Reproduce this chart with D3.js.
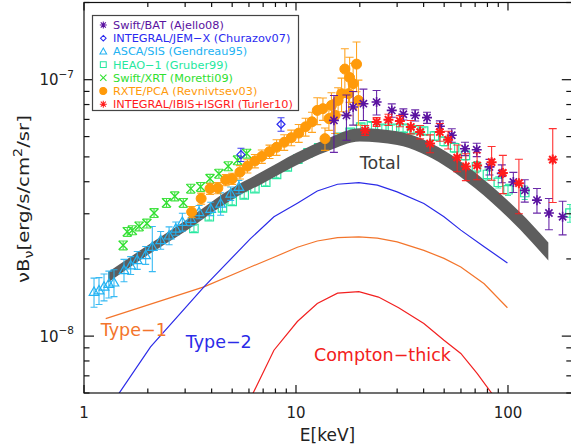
<!DOCTYPE html>
<html><head><meta charset="utf-8">
<script src="https://cdn.jsdelivr.net/npm/d3@7"></script>
<style>body{margin:0;background:#fff}svg{display:block}</style>
</head><body>
<svg id="chart" width="571" height="446"></svg>
<script>
// ---- Data (energy in keV, nuB_nu in erg/s/cm^2/sr, err = fractional 1-sigma) ----
const batE   = [15.1, 17.3, 18.6, 20.8, 24.0, 28.3, 32.1, 36.5, 41.5, 47.7, 54.3, 62.7, 71.2, 81.8, 93.5, 106, 120, 137, 156, 181];
const batV   = [6.94e-8, 7.26e-8, 7.82e-8, 8.06e-8, 8.18e-8, 7.59e-8, 7.33e-8, 7.26e-8, 7.11e-8, 6.58e-8, 6.07e-8, 5.38e-8, 5.33e-8, 4.57e-8, 4.31e-8, 3.99e-8, 3.70e-8, 3.39e-8, 3.02e-8, 2.92e-8];
const batErr = [0.25, 0.2, 0.15, 0.14, 0.11, 0.06, 0.05, 0.05, 0.05, 0.05, 0.06, 0.06, 0.06, 0.07, 0.08, 0.09, 0.10, 0.11, 0.14, 0.15];

const jemE   = [5.5, 8.5];
const jemV   = [5.1e-8, 6.7e-8];
const jemErr = [0.06, 0.06];

const ascaE   = [1.115, 1.177, 1.243, 1.31, 1.385, 1.544, 1.66, 1.783, 1.954, 2.10, 2.30, 2.52, 2.71, 2.91, 3.19, 3.49, 3.96, 4.41, 4.92, 5.38];
const ascaV   = [1.49e-8, 1.51e-8, 1.56e-8, 1.60e-8, 1.62e-8, 1.81e-8, 1.89e-8, 1.98e-8, 2.07e-8, 2.23e-8, 2.37e-8, 2.47e-8, 2.63e-8, 2.79e-8, 2.87e-8, 3.05e-8, 3.14e-8, 3.29e-8, 3.60e-8, 3.82e-8];
const ascaErr = [0.13, 0.12, 0.12, 0.12, 0.12, 0.10, 0.08, 0.08, 0.08, 0.20, 0.08, 0.08, 0.06, 0.08, 0.06, 0.06, 0.06, 0.10, 0.06, 0.06];

const heaoE   = [3.3, 3.9, 4.5, 5.0, 5.7, 6.4, 7.2, 8.1, 9.1, 10.2, 11.4, 12.8, 14.3, 16.0, 18.0, 20.2, 22.7, 25.4, 28.5, 32, 36, 40, 45, 50, 56, 63, 71, 80, 90, 100, 120, 196];
const heaoV   = [2.63e-8, 2.92e-8, 3.16e-8, 3.35e-8, 3.55e-8, 3.76e-8, 3.98e-8, 4.27e-8, 4.57e-8, 4.90e-8, 5.19e-8, 5.43e-8, 5.69e-8, 5.96e-8, 6.24e-8, 6.53e-8, 6.61e-8, 6.46e-8, 6.46e-8, 6.46e-8, 6.38e-8, 6.31e-8, 6.03e-8, 5.75e-8, 5.43e-8, 5.07e-8, 4.57e-8, 4.27e-8, 3.98e-8, 3.72e-8, 3.63e-8, 3.02e-8];
const heaoErr = [0.03, 0.03, 0.03, 0.03, 0.03, 0.03, 0.03, 0.03, 0.03, 0.03, 0.03, 0.03, 0.03, 0.03, 0.03, 0.03, 0.03, 0.03, 0.03, 0.03, 0.03, 0.03, 0.04, 0.04, 0.04, 0.04, 0.05, 0.05, 0.05, 0.05, 0.06, 0.08];

const xrtE   = [1.53, 1.60, 1.69, 1.82, 1.98, 2.14, 2.45, 2.68, 2.94, 3.19, 3.55, 3.93, 4.33, 4.79, 5.3, 5.85];
const xrtV   = [2.26e-8, 2.55e-8, 2.59e-8, 2.68e-8, 2.75e-8, 3.02e-8, 3.31e-8, 3.51e-8, 3.31e-8, 3.76e-8, 3.82e-8, 4.11e-8, 4.30e-8, 4.60e-8, 4.85e-8, 5.15e-8];
const xrtErr = [0.04, 0.04, 0.04, 0.04, 0.04, 0.04, 0.04, 0.04, 0.04, 0.04, 0.04, 0.04, 0.04, 0.04, 0.04, 0.04];

const pcaE   = [3.22, 3.57, 3.93, 4.28, 4.66, 5.0, 5.44, 5.9, 6.4, 6.9, 7.5, 8.1, 8.8, 9.5, 10.3, 11.1, 11.9, 12.6, 13.4, 13.7, 14.3, 14.7, 15.3, 15.8, 16.4, 17.0, 17.7, 17.9, 18.6, 19.3, 19.7];
const pcaV   = [3.05e-8, 3.44e-8, 3.76e-8, 3.78e-8, 4.06e-8, 4.11e-8, 4.36e-8, 4.60e-8, 4.82e-8, 5.02e-8, 5.24e-8, 5.45e-8, 5.70e-8, 5.94e-8, 6.19e-8, 6.55e-8, 6.85e-8, 7.59e-8, 7.71e-8, 5.89e-8, 7.05e-8, 7.94e-8, 7.26e-8, 8.30e-8, 8.82e-8, 1.10e-7, 8.82e-8, 1.02e-7, 9.65e-8, 1.15e-7, 8.30e-8];
const pcaErr = [0.05, 0.05, 0.05, 0.05, 0.05, 0.05, 0.06, 0.06, 0.06, 0.06, 0.06, 0.07, 0.07, 0.07, 0.08, 0.08, 0.09, 0.12, 0.10, 0.10, 0.10, 0.12, 0.15, 0.12, 0.15, 0.20, 0.18, 0.20, 0.20, 0.22, 0.20];

const isgriE   = [21.2, 24.0, 27.3, 30.9, 34.8, 38.5, 42.9, 47.7, 52.2, 57.6, 63.3, 71.5, 83.7, 94.6, 112.6, 162.6];
const isgriV   = [6.34e-8, 6.84e-8, 6.98e-8, 6.90e-8, 6.54e-8, 6.25e-8, 5.64e-8, 6.25e-8, 5.83e-8, 4.97e-8, 4.59e-8, 4.63e-8, 4.77e-8, 4.33e-8, 3.95e-8, 4.88e-8];
const isgriErr = [0.045, 0.04, 0.05, 0.05, 0.06, 0.06, 0.08, 0.08, 0.08, 0.12, 0.12, 0.12, 0.15, 0.17, 0.24, 0.32];

// Model components
const totalE    = [1.3, 2, 3, 5, 7, 10, 14, 20, 30, 50, 70, 100, 130, 155];
const totalLow  = [1.62e-8, 2.07e-8, 2.56e-8, 3.41e-8, 3.95e-8, 4.63e-8, 5.25e-8, 5.74e-8, 5.56e-8, 4.63e-8, 3.77e-8, 2.90e-8, 2.32e-8, 1.97e-8];
const totalHigh = [1.78e-8, 2.26e-8, 2.82e-8, 3.78e-8, 4.40e-8, 5.18e-8, 5.89e-8, 6.47e-8, 6.30e-8, 5.30e-8, 4.35e-8, 3.37e-8, 2.72e-8, 2.32e-8];

const type1E = [1.266, 3.68, 6.1, 7.87, 10.15, 12.6, 15.7, 19.8, 24.2, 30, 40.1, 49.9, 59.9, 77.2, 99.4];
const type1V = [1.17e-8, 1.556e-8, 1.86e-8, 2.03e-8, 2.22e-8, 2.35e-8, 2.42e-8, 2.44e-8, 2.41e-8, 2.33e-8, 2.16e-8, 2.01e-8, 1.86e-8, 1.60e-8, 1.29e-8];

const type2E = [1.4, 2.06, 3.68, 6.1, 7.87, 10.15, 12.6, 15.7, 19.8, 24.2, 30, 40.1, 49.9, 59.9, 77.2, 99.4];
const type2V = [5.67e-9, 9.08e-9, 1.556e-8, 2.40e-8, 2.92e-8, 3.30e-8, 3.68e-8, 3.91e-8, 3.97e-8, 3.88e-8, 3.65e-8, 3.29e-8, 2.92e-8, 2.59e-8, 2.23e-8, 1.93e-8];

const ctE = [6.0, 7.87, 10.15, 12.6, 15.7, 19.8, 24.5, 30.5, 40.1, 49.9, 59.9, 71.5, 85];
const ctV = [5.55e-9, 8.81e-9, 1.14e-8, 1.34e-8, 1.47e-8, 1.49e-8, 1.42e-8, 1.29e-8, 1.12e-8, 9.64e-9, 8.56e-9, 7.16e-9, 5.89e-9];

// Legend entries
const legendNames  = ["Swift/BAT (Ajello08)", "INTEGRAL/JEM\u2212X (Churazov07)", "ASCA/SIS (Gendreau95)", "HEAO\u22121 (Gruber99)", "Swift/XRT (Moretti09)", "RXTE/PCA (Revnivtsev03)", "INTEGRAL/IBIS+ISGRI (Turler10)"];
const legendColors = ["#5a12a0", "#2a2af0", "#22b2f2", "#26e8a0", "#30e030", "#ff9a0a", "#ff1c1c"];
const legendSymbols = ["asterisk", "diamond", "triangle", "square", "cross", "circle", "asterisk"];

const xTickLabels = ["1", "10", "100"];
const xMajor = [1, 10, 100];
const yMajor = [1e-8, 1e-7];
const yTickLabels = [["10", "\u22128"], ["10", "\u22127"]];

// ---- Layout ----
const svg = d3.select("#chart");
const L = 84, R = 571.8, T = 2.5, B = 393;
const x = d3.scaleLog().domain([1, 200]).range([L, R]);
const y = d3.scaleLog().domain([6e-9, 2e-7]).range([B, T]);
const FONT = "DejaVu Sans, sans-serif";

svg.append("defs").append("clipPath").attr("id", "plotClip")
  .append("rect").attr("x", L).attr("y", T).attr("width", R - L).attr("height", B - T);

const plot = svg.append("g").attr("clip-path", "url(#plotClip)");

function zip(E, V, Er) { return E.map((e, i) => ({e, v: V[i], f: Er ? Er[i] : 0})); }

// symbol path generators
function symPath(type, cx, cy) {
  const p = d3.path();
  if (type === "asterisk") {
    const r = 5, d = r * 0.72;
    p.moveTo(cx - r, cy); p.lineTo(cx + r, cy);
    p.moveTo(cx, cy - r); p.lineTo(cx, cy + r);
    p.moveTo(cx - d, cy - d); p.lineTo(cx + d, cy + d);
    p.moveTo(cx - d, cy + d); p.lineTo(cx + d, cy - d);
  } else if (type === "cross") {
    const r = 4.5;
    p.moveTo(cx - r, cy - r); p.lineTo(cx + r, cy + r);
    p.moveTo(cx - r, cy + r); p.lineTo(cx + r, cy - r);
  } else if (type === "triangle") {
    p.moveTo(cx - 4.8, cy + 3.6); p.lineTo(cx + 4.8, cy + 3.6); p.lineTo(cx, cy - 4.8); p.closePath();
  } else if (type === "square") {
    p.rect(cx - 4.2, cy - 4.2, 8.4, 8.4);
  } else if (type === "diamond") {
    p.moveTo(cx, cy - 4); p.lineTo(cx + 4, cy); p.lineTo(cx, cy + 4); p.lineTo(cx - 4, cy); p.closePath();
  } else if (type === "circle") {
    p.arc(cx, cy, 5, 0, 2 * Math.PI);
  }
  return p.toString();
}

function drawSeries(data, color, type, sw, cap) {
  const g = plot.append("g");
  // error bars
  const eb = d3.path();
  data.forEach(d => {
    const cx = x(d.e), y0 = y(d.v * (1 - d.f)), y1 = y(d.v * (1 + d.f));
    eb.moveTo(cx, y0); eb.lineTo(cx, y1);
    eb.moveTo(cx - cap, y0); eb.lineTo(cx + cap, y0);
    eb.moveTo(cx - cap, y1); eb.lineTo(cx + cap, y1);
  });
  g.append("path").attr("d", eb.toString()).attr("fill", "none")
    .attr("stroke", color).attr("stroke-width", 1.1).attr("stroke-opacity", 0.9);
  // markers
  g.selectAll("path.m").data(data).join("path").attr("class", "m")
    .attr("d", d => symPath(type, x(d.e), y(d.v)))
    .attr("fill", type === "circle" ? color : "none")
    .attr("stroke", color).attr("stroke-width", sw);
}

// HEAO-1 squares sit under the model band
drawSeries(zip(heaoE, heaoV, heaoErr), legendColors[3], "square", 1.2, 3);

// Total model band
const band = totalE.map((e, i) => ({e, lo: totalLow[i], hi: totalHigh[i]}));
plot.append("path").datum(band)
  .attr("d", d3.area().x(d => x(d.e)).y0(d => y(d.lo)).y1(d => y(d.hi)).curve(d3.curveMonotoneX))
  .attr("fill", "#5e5e5e");

// Model components
const line = d3.line().x(d => x(d.e)).y(d => y(d.v));
plot.append("path").datum(zip(type1E, type1V)).attr("d", line).attr("fill", "none").attr("stroke", "#f3752c").attr("stroke-width", 1.2);
plot.append("path").datum(zip(type2E, type2V)).attr("d", line).attr("fill", "none").attr("stroke", "#2b2be8").attr("stroke-width", 1.2);
plot.append("path").datum(zip(ctE, ctV)).attr("d", line).attr("fill", "none").attr("stroke", "#f22020").attr("stroke-width", 1.2);

// Data sets
drawSeries(zip(ascaE, ascaV, ascaErr), legendColors[2], "triangle", 1.2, 3.5);
drawSeries(zip(xrtE, xrtV, xrtErr), legendColors[4], "cross", 1.4, 4);
drawSeries(zip(jemE, jemV, jemErr), legendColors[1], "diamond", 1.2, 3.5);
drawSeries(zip(pcaE, pcaV, pcaErr), legendColors[5], "circle", 1, 4);
drawSeries(zip(batE, batV, batErr), legendColors[0], "asterisk", 1.6, 4);
drawSeries(zip(isgriE, isgriV, isgriErr), legendColors[6], "asterisk", 2, 4);

// ---- Axes frame and ticks ----
const ax = svg.append("g").attr("stroke", "#111").attr("stroke-width", 1.2).attr("fill", "none");
ax.append("rect").attr("x", L).attr("y", T).attr("width", R - L).attr("height", B - T);

const xAll = x.ticks().filter(v => v >= 1 && v <= 200);
xAll.forEach(v => {
  const len = xMajor.includes(v) ? 8 : 4.5;
  const px = x(v);
  ax.append("line").attr("x1", px).attr("x2", px).attr("y1", B).attr("y2", B - len);
  ax.append("line").attr("x1", px).attr("x2", px).attr("y1", T).attr("y2", T + len);
});
const yAll = y.ticks().filter(v => v >= 6e-9 * 0.999 && v <= 2e-7 * 1.001);
yAll.forEach(v => {
  const major = yMajor.some(m => Math.abs(m - v) / m < 1e-6);
  const len = major ? 10 : 5.5;
  const py = y(v);
  ax.append("line").attr("x1", L).attr("x2", L + len).attr("y1", py).attr("y2", py);
  ax.append("line").attr("x1", R).attr("x2", R - len).attr("y1", py).attr("y2", py);
});

// tick labels
xMajor.forEach((v, i) => {
  svg.append("text").attr("x", x(v)).attr("y", 418).attr("text-anchor", "middle")
    .attr("font-family", FONT).attr("font-size", 15).attr("fill", "#222").text(xTickLabels[i]);
});
yMajor.forEach((v, i) => {
  const t = svg.append("text").attr("x", 74).attr("y", y(v) + 5.5).attr("text-anchor", "end")
    .attr("font-family", FONT).attr("fill", "#222");
  t.append("tspan").attr("font-size", 15).text(yTickLabels[i][0]);
  t.append("tspan").attr("font-size", 10.5).attr("dy", -7.5).text(yTickLabels[i][1]);
});

// axis titles
svg.append("text").attr("x", (L + 571) / 2).attr("y", 441).attr("text-anchor", "middle")
  .attr("font-family", FONT).attr("font-size", 17).attr("fill", "#222").text("E[keV]");

// y title: laid out at natural size, then squeezed along its run to the wanted length
const ytG = svg.append("g");
const yt = ytG.append("text").attr("x", 0).attr("y", 0).attr("font-family", FONT)
  .attr("font-size", 16.5).attr("fill", "#222");
yt.append("tspan").text("\u03BDB");
yt.append("tspan").attr("font-size", 12).attr("dy", 4).text("\u03BD");
yt.append("tspan").attr("dy", -4).text("[erg/s/cm");
yt.append("tspan").attr("font-size", 12).attr("dy", -7).text("2");
yt.append("tspan").attr("dy", 7).text("/sr]");
const ytBox = yt.node().getBBox();
const ytW = ytBox.width > 0 ? ytBox.width : 210;
yt.attr("transform", `scale(${168 / ytW},1) translate(${-(ytBox.x + ytW / 2)},0)`);
ytG.attr("transform", "translate(29,199) rotate(-90)");

// ---- Component labels ----
const labels = [
  {t: "Total", e: 20.0, v: 4.5e-8, c: "#3c3c3c"},
  {t: "Type\u22121", e: 1.2, v: 1.0e-8, c: "#f3752c"},
  {t: "Type\u22122", e: 3.02, v: 9.0e-9, c: "#2b2be8"},
  {t: "Compton\u2212thick", e: 12.15, v: 8.0e-9, c: "#f22020"}
];
labels.forEach(d => {
  svg.append("text").attr("x", x(d.e)).attr("y", y(d.v)).attr("font-family", FONT)
    .attr("font-size", 17.5).attr("fill", d.c).text(d.t);
});

// ---- Legend ----
const lg = svg.append("g");
lg.append("rect").attr("x", 92.5).attr("y", 15.5).attr("width", 206).attr("height", 95)
  .attr("fill", "#fff").attr("stroke", "#444").attr("stroke-width", 1.2);
legendNames.forEach((n, i) => {
  const cy = 25 + i * 13.2;
  lg.append("path").attr("d", symPath(legendSymbols[i], 103.3, cy))
    .attr("transform", `translate(${103.3 * 0.3},${cy * 0.3}) scale(0.7)`)
    .attr("fill", legendSymbols[i] === "circle" ? legendColors[i] : "none")
    .attr("stroke", legendColors[i]).attr("stroke-width", 1.5);
  lg.append("text").attr("x", 113).attr("y", cy + 4).attr("font-family", FONT)
    .attr("font-size", 11.3).attr("fill", legendColors[i]).text(n);
});
</script>
</body></html>
